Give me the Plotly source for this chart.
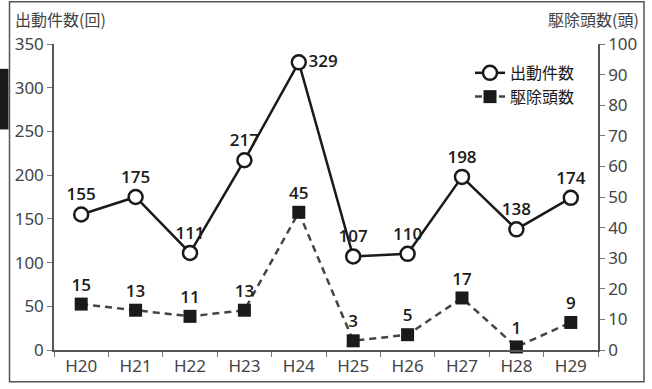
import plotly.graph_objects as go

# 年度ごとの出動件数と駆除頭数
years = ["H20", "H21", "H22", "H23", "H24", "H25", "H26", "H27", "H28", "H29"]
dispatches = [155, 175, 111, 217, 329, 107, 110, 198, 138, 174]
removals = [15, 13, 11, 13, 45, 3, 5, 17, 1, 9]
dispatch_label_pos = ["top center"] * 10
dispatch_label_pos[4] = "middle right"

FONT = "Noto Sans CJK JP, Noto Sans, sans-serif"
NUM_FONT = "Noto Sans, Open Sans, sans-serif"
LABEL_FONT = "Open Sans, Noto Sans, sans-serif"
W, H = 652, 389
L, R, T, B = 54, 54, 44, 37
pw, ph = W - L - R, H - T - B


def px_x(x):
    return (x - L) / pw


def px_y(y):
    return (H - B - y) / ph


label_font = dict(family=LABEL_FONT, size=17, color="#1a1a1a", weight=600)

fig = go.Figure()

fig.add_trace(go.Scatter(
    x=years, y=dispatches, name="出動件数", yaxis="y",
    mode="lines+markers+text",
    line=dict(color="#1a1a1a", width=2.5),
    marker=dict(symbol="circle", size=14, color="white",
                line=dict(color="#1a1a1a", width=2.5)),
    text=[str(v) for v in dispatches], textposition=dispatch_label_pos,
    textfont=label_font,
    cliponaxis=False,
))

fig.add_trace(go.Scatter(
    x=years, y=removals, name="駆除頭数", yaxis="y2",
    mode="lines+markers+text",
    line=dict(color="#444444", width=2.5, dash="7px,5px"),
    marker=dict(symbol="square", size=13, color="#1a1a1a"),
    text=[str(v) for v in removals], textposition="top center",
    textfont=label_font,
    cliponaxis=False,
))

tickfont = dict(family=NUM_FONT, size=17, color="#444444")

fig.update_layout(
    width=W, height=H,
    margin=dict(l=L, r=R, t=T, b=B),
    paper_bgcolor="white", plot_bgcolor="white",
    showlegend=True,
    legend=dict(x=px_x(470), y=px_y(56), xanchor="left", yanchor="top",
                font=dict(family=FONT, size=16, color="#1a1a1a"),
                bgcolor="rgba(0,0,0,0)", itemwidth=30, tracegroupgap=2),
    xaxis=dict(
        type="category", range=[-0.5, 9.5],
        showline=True, linecolor="#555555", linewidth=1.5,
        ticks="outside", ticklen=5, tickcolor="#777777",
        tickson="boundaries", showgrid=False,
        tickfont=tickfont,
    ),
    yaxis=dict(
        range=[0, 350], dtick=50,
        showline=True, linecolor="#555555", linewidth=1.5,
        ticks="outside", ticklen=5, tickcolor="#777777",
        showgrid=False, zeroline=False, tickfont=tickfont,
    ),
    yaxis2=dict(
        range=[0, 100], dtick=10, overlaying="y", side="right",
        showline=True, linecolor="#555555", linewidth=1.5,
        ticks="outside", ticklen=5, tickcolor="#777777",
        showgrid=False, zeroline=False, tickfont=tickfont,
    ),
    annotations=[
        dict(text="出動件数(回)", xref="paper", yref="paper",
             x=px_x(13), y=px_y(19), xanchor="left", yanchor="middle",
             showarrow=False, font=dict(family=FONT, size=16, color="#444444")),
        dict(text="駆除頭数(頭)", xref="paper", yref="paper",
             x=px_x(641), y=px_y(19), xanchor="right", yanchor="middle",
             showarrow=False, font=dict(family=FONT, size=16, color="#444444")),
    ],
    shapes=[
        dict(type="rect", xref="paper", yref="paper",
             x0=px_x(9.5), x1=px_x(644), y0=px_y(384), y1=px_y(1.5),
             line=dict(color="#555555", width=1.5), fillcolor="rgba(0,0,0,0)",
             layer="below"),
        dict(type="rect", xref="paper", yref="paper",
             x0=px_x(0), x1=px_x(8.5), y0=px_y(130), y1=px_y(69),
             line=dict(width=0), fillcolor="#1a1a1a"),
    ],
)

fig.write_html("out.html")
